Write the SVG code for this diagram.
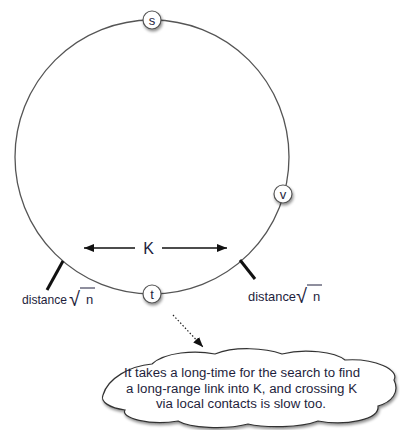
<svg xmlns="http://www.w3.org/2000/svg" width="400" height="430" viewBox="0 0 400 430">
<defs>
<filter id="sh" x="-50%" y="-50%" width="200%" height="200%">
<feGaussianBlur in="SourceAlpha" stdDeviation="1.6"/>
<feOffset dx="1" dy="2" result="b"/>
<feComponentTransfer><feFuncA type="linear" slope="0.45"/></feComponentTransfer>
<feMerge><feMergeNode/><feMergeNode in="SourceGraphic"/></feMerge>
</filter>
<marker id="ah" viewBox="0 0 10 8" refX="10" refY="4" markerWidth="10" markerHeight="8" markerUnits="userSpaceOnUse" orient="auto">
<path d="M0,0 L10,4 L0,8 z" fill="#111"/>
</marker>
<style>
.ring{fill:none;stroke:#555;stroke-width:1.3}
.node{fill:#fff;stroke:#555;stroke-width:1.2}
.lbl{font-family:"Liberation Sans",Arial,sans-serif;font-size:13px;fill:#1e1e3c;text-anchor:middle}
.dist{font-family:"Liberation Sans",Arial,sans-serif;font-size:13px;fill:#1e1e3c}
.rad{font-family:"Liberation Sans",Arial,sans-serif;font-size:20px;fill:#1e1e3c}
.vin{stroke:#1e1e3c;stroke-width:1}
.tick{stroke:#111;stroke-width:3;stroke-linecap:butt}
.cl{font-family:"Liberation Sans",Arial,sans-serif;font-size:12.5px;fill:#1e1e3c;text-anchor:middle}
</style>
</defs>
<rect width="400" height="430" fill="#fff"/>
<circle class="ring" cx="152" cy="157" r="137"/>
<g id="connectors">
<line class="tick" x1="63" y1="261" x2="47" y2="290"/>
<line class="tick" x1="240" y1="260" x2="255" y2="279"/>
<line x1="135" y1="248" x2="84" y2="248" stroke="#111" stroke-width="1.3" marker-end="url(#ah)"/>
<line x1="162" y1="248" x2="227" y2="248" stroke="#111" stroke-width="1.3" marker-end="url(#ah)"/>
<line x1="173" y1="315" x2="203" y2="347" stroke="#222" stroke-width="1.2" stroke-dasharray="1.5,2" marker-end="url(#ah)"/>
</g>
<g id="node-s"><circle class="node" cx="152" cy="20" r="9" filter="url(#sh)"/><text class="lbl" x="152" y="24.5">s</text></g>
<g id="node-v"><circle class="node" cx="283" cy="194" r="9" filter="url(#sh)"/><text class="lbl" x="283" y="198.5">v</text></g>
<g id="node-t"><circle class="node" cx="152" cy="294" r="9" filter="url(#sh)"/><text class="lbl" x="152" y="298.5">t</text></g>
<g id="label-K"><text x="148.5" y="253.5" font-family="'Liberation Sans',Arial,sans-serif" font-size="16" fill="#1e1e3c" text-anchor="middle">K</text></g>
<g id="label-dist-left">
<text class="dist" x="22" y="304" textLength="45" lengthAdjust="spacingAndGlyphs">distance</text>
<text class="rad" x="69" y="306">√</text>
<line class="vin" x1="80" y1="288" x2="95" y2="288"/>
<text class="dist" x="86" y="304">n</text>
</g>
<g id="label-dist-right">
<text class="dist" x="248" y="301" textLength="48" lengthAdjust="spacingAndGlyphs">distance</text>
<text class="rad" x="296" y="303">√</text>
<line class="vin" x1="307" y1="285" x2="322" y2="285"/>
<text class="dist" x="313" y="301">n</text>
</g>
<g id="cloud">
<path d="M103,395 C108,378 130,366 152,364 C165,352 195,350 215,354 C235,346 265,348 282,354 C305,348 335,352 345,360 C375,358 400,370 394,380 C400,392 392,402 378,406 C380,420 345,426 318,421 C300,428 265,428 248,424 C225,430 190,428 178,421 C150,426 120,418 125,410 C110,408 100,402 103,395 Z" fill="#fff" stroke="#333" stroke-width="1.2" filter="url(#sh)"/>
<text class="cl" x="242" y="377" textLength="236" lengthAdjust="spacingAndGlyphs">It takes a long-time for the search to find</text>
<text class="cl" x="241.5" y="393" textLength="231" lengthAdjust="spacingAndGlyphs">a long-range link into K, and crossing K</text>
<text class="cl" x="241" y="408" textLength="170" lengthAdjust="spacingAndGlyphs">via local contacts is slow too.</text>
</g>
</svg>
